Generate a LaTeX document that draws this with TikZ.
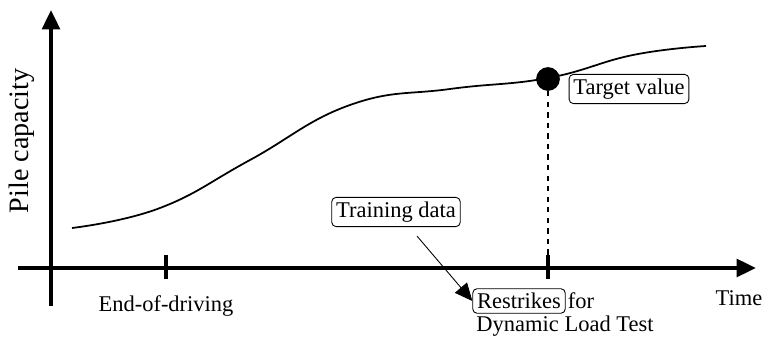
\documentclass[tikz,border=0pt]{standalone}
\usepackage{fontspec}
\setmainfont{Liberation Serif}
\usetikzlibrary{positioning, arrows.meta}

\begin{document}
\begin{tikzpicture}[
  x=0.02cm, y=-0.02cm,
  font=\fontsize{12.8}{15}\selectfont,
  axis/.style={-{Triangle[length=11pt, width=10pt]}, line width=2.2pt},
  tick/.style={line width=1.8pt},
  lbl/.style={draw, rounded corners=2.5pt, inner sep=2.5pt, line width=0.5pt},
  arr/.style={-{Triangle[length=10pt, width=9pt]}, line width=0.5pt}
]
\useasboundingbox (0,0) rectangle (768,337);
% axes
\coordinate (o) at (51,268);
\coordinate (ybot) at (51,306);
\coordinate (ytop) at (51,10);
\coordinate (xleft) at (18,268);
\coordinate (xright) at (756,268);
\draw[axis] (ybot) -- (ytop);
\draw[axis] (xleft) -- (xright);
% ticks
\coordinate (eod) at (166,268);
\coordinate (dlt) at (548,268);
\draw[tick] ([yshift=-6.5pt]eod) -- ([yshift=7.5pt]eod);
\draw[tick] ([yshift=-6.5pt]dlt) -- ([yshift=7.5pt]dlt);
% capacity curve
\draw[line width=1pt] plot[smooth, tension=0.75] coordinates {
  (72,228) (160,208) (250,160) (350,105) (450,89) (548,78) (633,55) (706,46)};
\node[circle, fill=black, inner sep=0pt, minimum size=13.5pt] (target) at (548,79) {};
\draw[dashed, line width=0.6pt] (target) -- (dlt);
% labels
\node[rotate=90, font=\fontsize{16}{18}\selectfont] (ylab) at (22,141) {Pile capacity};
\node (time) at (739,298) {Time};
\node (eodlab) at (166,306) {End-of-driving};
\node[lbl] (tval) at (629,89) {Target value};
\node[lbl] (train) at (396,212) {Training data};
\node[lbl] (restr) at (519,301) {Restrikes};
\node[right=0pt of restr, inner sep=1pt] (for) {for};
\node (dltlab) at (565,326) {Dynamic Load Test};
\draw[arr] ([shift={(21,9)}]train.south) -- (restr.west);
\end{tikzpicture}
\end{document}
